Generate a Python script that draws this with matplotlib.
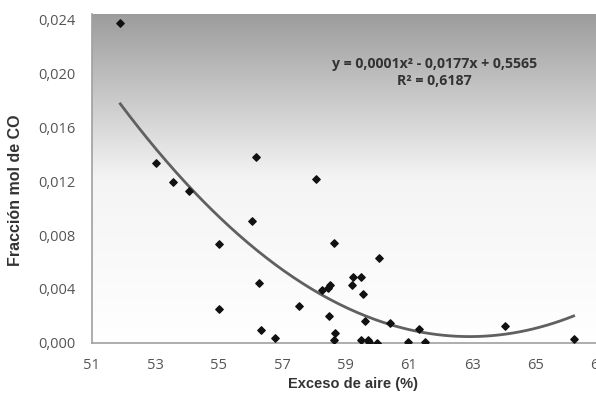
import numpy as np
import matplotlib
matplotlib.use("Agg")
from matplotlib import pyplot as plt
from matplotlib.colors import LinearSegmentedColormap
from matplotlib.ticker import FuncFormatter

# datos
exceso_aire = [51.9, 53.03, 53.56, 54.06, 56.18, 58.07, 56.04, 55.02, 58.64, 56.26,
               55.0, 56.35, 56.77, 57.53, 58.27, 58.46, 58.53, 58.49, 58.67, 58.63,
               60.05, 59.24, 59.48, 59.21, 59.57, 59.62, 60.40, 59.48, 59.70, 59.75,
               60.0, 60.96, 61.5, 61.33, 64.03, 66.2]
fraccion_co = [0.02375, 0.01333, 0.01195, 0.01128, 0.01375, 0.01215, 0.00906, 0.00731, 0.00743, 0.00442,
               0.0025, 0.00099, 0.00035, 0.00272, 0.00393, 0.00405, 0.0043, 0.0020, 0.00076, 0.00022,
               0.00627, 0.00486, 0.00491, 0.00432, 0.00361, 0.00161, 0.0015, 0.00025, 0.00025, 0.00007,
               0.0, 0.00005, 0.00005, 0.00104, 0.00126, 0.0003]
xticks = [51, 53, 55, 57, 59, 61, 63, 65, 67]
yticks = [0.000, 0.004, 0.008, 0.012, 0.016, 0.020, 0.024]

plt.rcParams['font.family'] = ['Open Sans', 'DejaVu Sans']

fig = plt.figure(figsize=(5.96, 3.96), dpi=100)
ax = fig.add_axes([0.154, 0.134, 0.851, 0.831])
ax.set_xlim(51, 67)
ax.set_ylim(0, 0.0244)

# fondo degradado: blanco abajo, gris arriba
grad = np.linspace(0, 1, 256).reshape(-1, 1)
cmap_fondo = LinearSegmentedColormap.from_list('fondo', ['#ffffff', '#f4f4f4', '#9c9c9c'])
ax.imshow(grad, extent=[0, 1, 0, 1], transform=ax.transAxes, aspect='auto',
          cmap=cmap_fondo, origin='lower', zorder=0)

# linea de tendencia polinomica
x = np.array(exceso_aire)
y = np.array(fraccion_co)
coef = np.polyfit(x, y, 2)
xs = np.linspace(x.min(), x.max(), 200)
ax.plot(xs, np.polyval(coef, xs), color='#606060', lw=2, zorder=2)

ax.scatter(x, y, marker='D', s=14, color='#111111', zorder=3)

ax.set_xticks(xticks)
ax.set_yticks(yticks)
ax.yaxis.set_major_formatter(FuncFormatter(lambda v, p: f"{v:.3f}".replace('.', ',')))
ax.tick_params(length=0, labelsize=10.5, labelcolor='#555555')
ax.tick_params(axis='y', pad=12)
ax.tick_params(axis='x', pad=11)
for s in ['top', 'right']:
    ax.spines[s].set_visible(False)
for s in ['left', 'bottom']:
    ax.spines[s].set_color('#a0a0a0')
    ax.spines[s].set_linewidth(1.2)

ax.set_xlabel('Exceso de aire (%)', fontsize=10.5, fontweight='bold', color='#333333',
              family=['Liberation Sans', 'DejaVu Sans'])
ax.set_ylabel('Fracción mol de CO', fontsize=11.5, fontweight='bold', color='#333333',
              family=['Liberation Sans', 'DejaVu Sans'])
ax.xaxis.set_label_coords((353 - 92) / 507, -34 / 329)
ax.yaxis.set_label_coords(-69 / 507, 0.465)

ax.text(0.675, 0.822, 'y = 0,0001x² - 0,0177x + 0,5565\nR² = 0,6187', transform=ax.transAxes,
        ha='center', va='center', fontsize=10.2, fontweight='bold', color='#333333', linespacing=1.3)

fig.savefig('out.png', dpi=100)
